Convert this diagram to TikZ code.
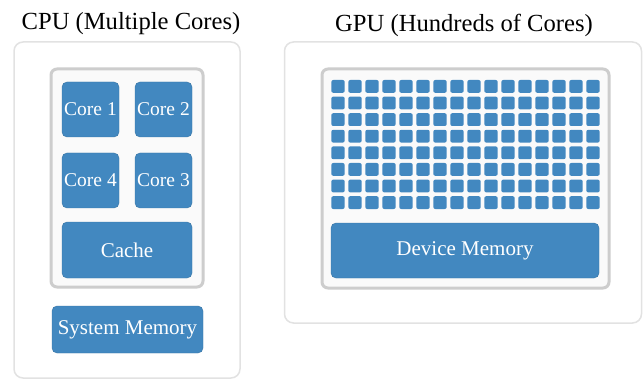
\documentclass[tikz,border=0pt]{standalone}
\usepackage{fontspec}
\setmainfont{Liberation Serif}
\definecolor{boxblue}{RGB}{66,136,192}
\definecolor{outerline}{RGB}{226,226,226}
\definecolor{innerline}{RGB}{205,205,205}
\definecolor{innerfill}{RGB}{250,250,250}
\begin{document}
\begin{tikzpicture}[x=1pt,y=-1pt,
  outerbox/.style={draw=outerline,line width=1.5pt,fill=white,rounded corners=9pt,inner sep=0pt},
  innerbox/.style={draw=innerline,line width=3pt,fill=innerfill,rounded corners=6pt,inner sep=0pt},
  bluebox/.style={fill=boxblue,draw=boxblue!85!black,line width=0.4pt,rounded corners=5pt,text=white,inner sep=0pt,font=\fontsize{21}{24}\selectfont},
  corebox/.style={bluebox,minimum width=57pt,minimum height=55pt,font=\fontsize{19.5}{22}\selectfont},
  cell/.style={fill=boxblue,rounded corners=2pt,minimum width=13.4pt,minimum height=12.8pt,inner sep=0pt},
  title/.style={inner sep=0pt,font=\fontsize{24.6}{28}\selectfont}]
\useasboundingbox (0,0) rectangle (644,379);
% titles
\node[title] (cputitle) at (131,24) {CPU (Multiple Cores)};
\node[title] (gputitle) at (464,25) {GPU (Hundreds of Cores)};
% CPU
\node[outerbox,minimum width=226pt,minimum height=336pt] (cpu) at (127,210) {};
\node[innerbox,minimum width=152pt,minimum height=218pt] (cpuin) at (127,178) {};
\node[corebox] (core1) at (90.5,109.5) {Core 1};
\node[corebox] (core2) at (163.5,109.5) {Core 2};
\node[corebox] (core4) at (90.5,180.5) {Core 4};
\node[corebox] (core3) at (163.5,180.5) {Core 3};
\node[bluebox,minimum width=130pt,minimum height=56pt] (cache) at (127,250) {Cache};
\node[bluebox,minimum width=151pt,minimum height=47pt] (sysmem) at (127.5,329.5) {System Memory};
% GPU
\node[outerbox,minimum width=357pt,minimum height=281pt] (gpu) at (463,182.5) {};
\node[innerbox,minimum width=287pt,minimum height=219pt] (gpuin) at (465.5,178.5) {};
\foreach \i in {0,...,15}{
  \foreach \j in {0,...,7}{
    \node[cell] (c-\i-\j) at ({338+17*\i},{86.4+16.6*\j}) {};
  }
}
\node[bluebox,minimum width=268pt,minimum height=55pt] (devmem) at (465,250.5) {Device Memory};
\end{tikzpicture}
\end{document}
